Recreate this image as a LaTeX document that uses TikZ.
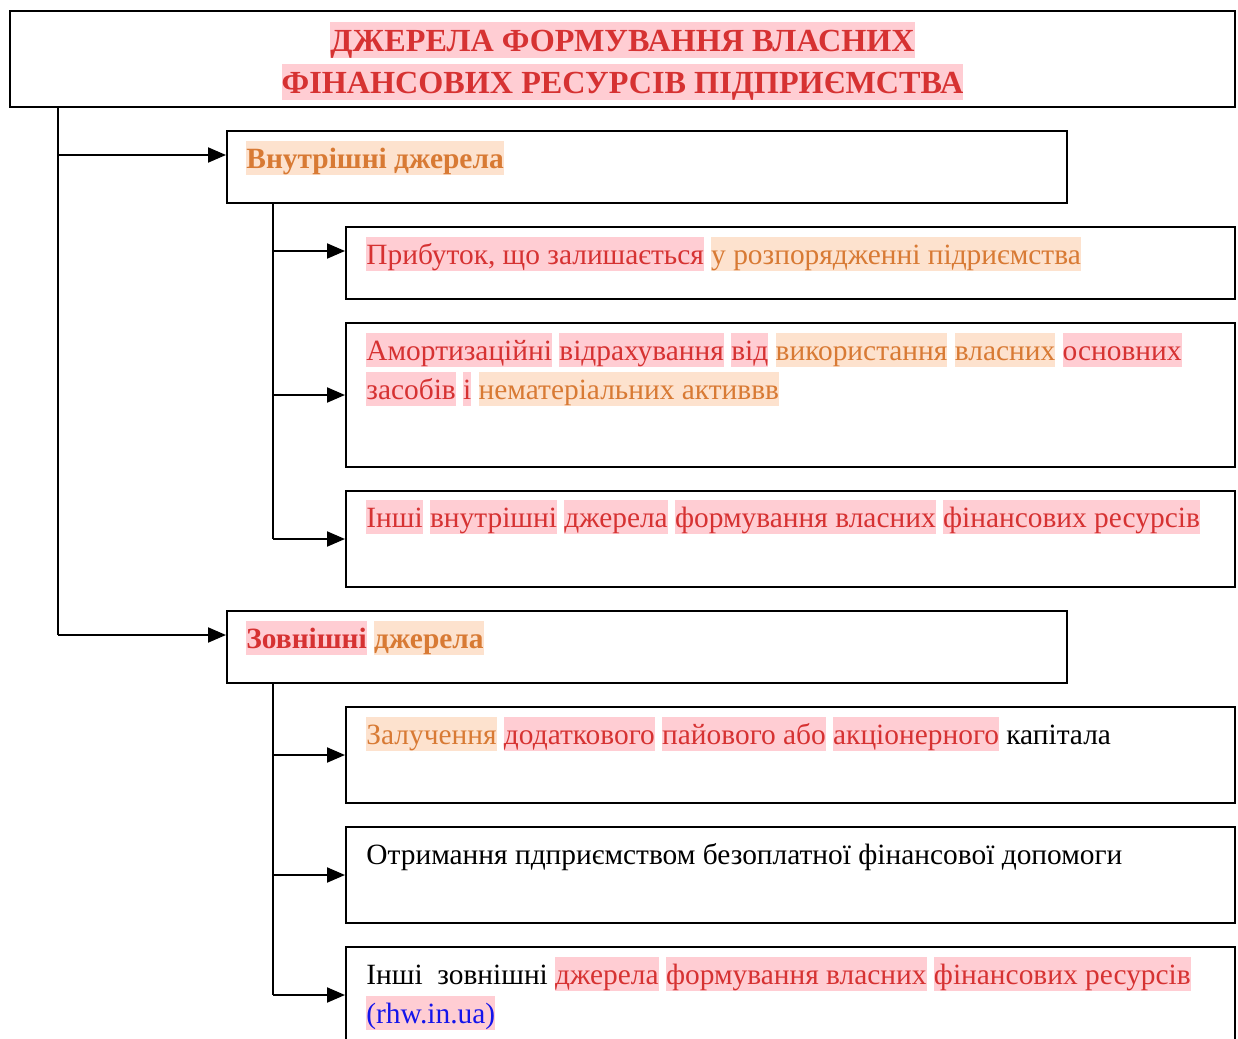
\documentclass[tikz,border=0pt]{standalone}
\usepackage{fontspec}
\setmainfont{Liberation Serif}
\usetikzlibrary{arrows.meta}
\definecolor{txtred}{RGB}{214,50,50}
\definecolor{txtorange}{RGB}{216,122,52}
\definecolor{bgpink}{RGB}{255,205,211}
\definecolor{bgpeach}{RGB}{253,226,206}
\definecolor{urlblue}{RGB}{20,20,235}
\setlength{\fboxsep}{0pt}
\newcommand{\hstrut}{\rule[-0.2em]{0pt}{1.13em}}
\newcommand{\pinkred}[1]{\colorbox{bgpink}{\hstrut\textcolor{txtred}{#1}}}
\newcommand{\peachorange}[1]{\colorbox{bgpeach}{\hstrut\textcolor{txtorange}{#1}}}
\begin{document}
\begin{tikzpicture}[x=0.5pt,y=-0.5pt,
    srcbox/.style 2 args={draw,line width=1pt,anchor=north west,inner sep=0pt,
      minimum width=#1*0.5pt,minimum height=#2*0.5pt},
    txt/.style={anchor=north west,inner sep=0pt,align=left,
      font=\fontsize{14.7}{19.5}\selectfont},
    link/.style={line width=0.9pt},
    arr/.style={line width=1pt,-{Triangle[length=9pt,width=7.5pt]}}]
  \useasboundingbox (0,0) rectangle (1238,1039);
  % boxes
  \node[srcbox={1225}{96}] (title) at (9,10) {};
  \node[srcbox={840}{72}] (ib) at (226,130) {};
  \node[srcbox={889}{72}] (p1) at (345,226) {};
  \node[srcbox={889}{144}] (p2) at (345,322) {};
  \node[srcbox={889}{96}] (p3) at (345,490) {};
  \node[srcbox={840}{72}] (eb) at (226,610) {};
  \node[srcbox={889}{96}] (e1) at (345,706) {};
  \node[srcbox={889}{96}] (e2) at (345,826) {};
  \node[srcbox={889}{96}] (e3) at (345,946) {};
  % texts
  \node[align=center,inner sep=0pt,font=\fontsize{16.1}{21}\selectfont\bfseries]
    (titletext) at ([yshift=-1pt]title.center)
    {\pinkred{ДЖЕРЕЛА ФОРМУВАННЯ ВЛАСНИХ}\\\pinkred{ФІНАНСОВИХ РЕСУРСІВ ПІДПРИЄМСТВА}};
  \node[txt,font=\fontsize{14.7}{19.5}\selectfont\bfseries] (ibtext)
    at ([shift={(20,11)}]ib.north west) {\peachorange{Внутрішні джерела}};
  \node[txt] (p1text) at ([shift={(21,11)}]p1.north west)
    {\pinkred{Прибуток, що залишається} \peachorange{у розпорядженні підриємства}};
  \node[txt] (p2text) at ([shift={(21,11)}]p2.north west)
    {\pinkred{Амортизаційні} \pinkred{відрахування} \pinkred{від}
     \peachorange{використання} \peachorange{власних} \pinkred{основних}\\
     \pinkred{засобів} \pinkred{і} \peachorange{нематеріальних активвв}};
  \node[txt] (p3text) at ([shift={(21,10)}]p3.north west)
    {\pinkred{Інші} \pinkred{внутрішні} \pinkred{джерела} \pinkred{формування власних}
     \pinkred{фінансових ресурсів}};
  \node[txt,font=\fontsize{14.7}{19.5}\selectfont\bfseries] (ebtext)
    at ([shift={(20,11)}]eb.north west) {\pinkred{Зовнішні} \peachorange{джерела}};
  \node[txt] (e1text) at ([shift={(21,11)}]e1.north west)
    {\peachorange{Залучення} \pinkred{додаткового} \pinkred{пайового або}
     \pinkred{акціонерного} капітала};
  \node[txt] (e2text) at ([shift={(21,11)}]e2.north west)
    {\hstrut Отримання пдприємством безоплатної фінансової допомоги};
  \node[txt] (e3text) at ([shift={(21,11)}]e3.north west)
    {\hstrut Інші\ \ зовнішні \pinkred{джерела} \pinkred{формування власних}
     \pinkred{фінансових ресурсів}\\
     \colorbox{bgpink}{\hstrut\textcolor{urlblue}{(rhw.in.ua)}}};
  % connectors
  \coordinate (trunk) at (58,0);
  \coordinate (itrunk) at (273,0);
  \coordinate (etrunk) at (273,0);
  \draw[link] (trunk |- title.south) -- ([yshift=6pt]trunk |- eb.west);
  \foreach \target in {ib,eb}{
    \draw[arr] ([yshift=6pt]trunk |- \target.west) -- ([yshift=6pt]\target.west);
  }
  \draw[link] (itrunk |- ib.south) -- (itrunk |- p3.west);
  \draw[arr] ([yshift=6pt]itrunk |- p1.west) -- ([yshift=6pt]p1.west);
  \foreach \target in {p2,p3}{
    \draw[arr] (itrunk |- \target.west) -- (\target.west);
  }
  \draw[link] (etrunk |- eb.south) -- (etrunk |- e3.west);
  \foreach \target in {e1,e2,e3}{
    \draw[arr] (etrunk |- \target.west) -- (\target.west);
  }
\end{tikzpicture}
\end{document}
